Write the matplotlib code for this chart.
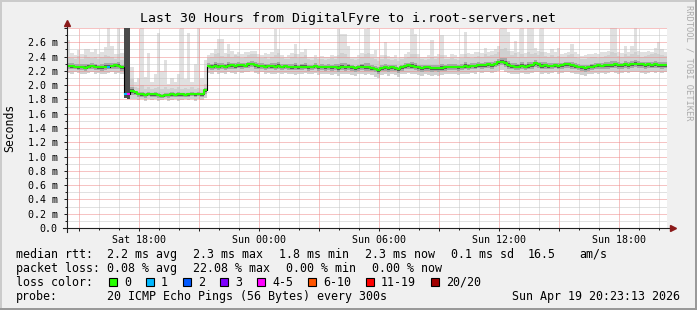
import matplotlib
matplotlib.use("Agg")
import matplotlib.pyplot as plt
import matplotlib.dates as mdates
from matplotlib.patches import Rectangle
from matplotlib.ticker import MultipleLocator, FixedLocator, FuncFormatter
from datetime import datetime, timedelta

W, H = 697, 310
MONO = "DejaVu Sans Mono"

end_time = datetime(2026, 4, 19, 20, 23, 13)
start_time = end_time - timedelta(hours=30)
step_min = 10   # one value per 10 minutes, 180 steps

# median rtt per step (ms)
median_ms = [
    2.27, 2.27, 2.26, 2.25, 2.26, 2.24, 2.26, 2.27, 2.26, 2.25, 2.25, 2.26, 2.26, 2.27, 2.28, 2.27, 2.25,
    1.88, 1.88, 1.92, 1.90, 1.88, 1.87, 1.86, 1.88, 1.87, 1.87, 1.86, 1.85, 1.86, 1.86, 1.87, 1.86,
    1.87, 1.87, 1.86, 1.87, 1.88, 1.87, 1.88, 1.87, 1.93,
    2.27, 2.26, 2.27, 2.26, 2.27, 2.26, 2.27, 2.28, 2.27, 2.28, 2.28, 2.27, 2.29, 2.30, 2.28,
    2.27, 2.27, 2.26, 2.27, 2.27, 2.26, 2.27, 2.26, 2.27,
    2.26, 2.25, 2.26, 2.25, 2.26, 2.26, 2.25, 2.26, 2.27, 2.25, 2.26, 2.25,
    2.26, 2.25, 2.26, 2.24, 2.26, 2.25, 2.26, 2.25, 2.24, 2.25, 2.26, 2.25,
    2.25, 2.24, 2.23, 2.21, 2.24, 2.25, 2.24, 2.25, 2.24, 2.22,
    2.25, 2.27, 2.28, 2.27, 2.26, 2.25, 2.24, 2.25, 2.25, 2.24, 2.24,
    2.24, 2.24, 2.25, 2.26, 2.26, 2.26, 2.25, 2.26, 2.27, 2.26, 2.27, 2.27,
    2.28, 2.28, 2.28, 2.29, 2.28, 2.30, 2.32, 2.33, 2.31,
    2.28, 2.27, 2.26, 2.26, 2.27, 2.26, 2.27, 2.28, 2.31,
    2.29, 2.27, 2.28, 2.27, 2.27, 2.28, 2.27, 2.28, 2.29, 2.29, 2.28, 2.27,
    2.26, 2.25, 2.24, 2.25, 2.26, 2.27, 2.28, 2.27, 2.28,
    2.28, 2.28, 2.29, 2.28, 2.28, 2.29, 2.28, 2.29, 2.30, 2.30, 2.29, 2.28, 2.29, 2.28, 2.29, 2.28, 2.28, 2.28,
]

# lower edge of the smoke (fastest pings)
smoke_lo = [
    2.17, 2.16, 2.18, 2.17, 2.16, 2.15, 2.17, 2.18, 2.16, 2.17, 2.15, 2.16, 2.17, 2.18, 2.16, 2.17, 2.15,
    1.82, 1.80, 1.80, 1.81, 1.79, 1.80, 1.78, 1.80, 1.79, 1.80, 1.78, 1.79, 1.80, 1.78, 1.79, 1.80,
    1.78, 1.79, 1.80, 1.79, 1.80, 1.78, 1.80, 1.79, 1.82,
    2.17, 2.16, 2.18, 2.15, 2.17, 2.16, 2.18, 2.17, 2.16, 2.18, 2.17, 2.19,
    2.18, 2.20, 2.17, 2.16, 2.18, 2.15, 2.17, 2.16, 2.15, 2.17, 2.16, 2.17,
    2.15, 2.16, 2.14, 2.16, 2.15, 2.17, 2.15, 2.16, 2.17, 2.14, 2.16, 2.15,
    2.16, 2.14, 2.15, 2.13, 2.16, 2.15, 2.16, 2.14, 2.13, 2.15, 2.16, 2.14,
    2.15, 2.14, 2.12, 2.10, 2.14, 2.15, 2.13, 2.15, 2.14, 2.12, 2.15, 2.16,
    2.17, 2.16, 2.15, 2.14, 2.13, 2.15, 2.14, 2.13, 2.14, 2.13, 2.14, 2.15,
    2.16, 2.15, 2.16, 2.14, 2.15, 2.16, 2.15, 2.17, 2.16, 2.18, 2.17, 2.18,
    2.18, 2.17, 2.19, 2.20, 2.21, 2.19, 2.17, 2.16, 2.15, 2.16, 2.17, 2.15,
    2.16, 2.17, 2.19, 2.18, 2.16, 2.17, 2.16, 2.17, 2.18, 2.16, 2.17, 2.18,
    2.18, 2.17, 2.16, 2.15, 2.14, 2.13, 2.15, 2.16, 2.17, 2.16, 2.17, 2.16,
    2.17, 2.18, 2.17, 2.16, 2.17, 2.18, 2.17, 2.18, 2.19, 2.18, 2.17, 2.16,
    2.17, 2.18, 2.17, 2.18, 2.17, 2.18,
]

# upper edge of the dense smoke
smoke_up = [
    2.40, 2.38, 2.36, 2.41, 2.37, 2.42, 2.39, 2.38, 2.40, 2.36, 2.39, 2.42, 2.41, 2.40, 2.37, 2.43, 2.35,
    2.80, 2.80, 2.08, 1.98, 1.96, 2.00, 1.95, 1.97, 1.94, 1.96, 1.98, 1.95, 1.97, 1.94, 1.96, 1.95,
    1.97, 1.94, 1.96, 1.95, 1.97, 1.94, 1.96, 1.95, 2.02,
    2.38, 2.40, 2.43, 2.45, 2.41, 2.39, 2.44, 2.40, 2.42, 2.41, 2.38, 2.40,
    2.42, 2.44, 2.43, 2.39, 2.38, 2.40, 2.37, 2.39, 2.42, 2.45, 2.38, 2.36,
    2.37, 2.39, 2.44, 2.38, 2.40, 2.42, 2.36, 2.35, 2.38, 2.36, 2.37, 2.35,
    2.36, 2.38, 2.37, 2.42, 2.45, 2.43, 2.40, 2.36, 2.35, 2.37, 2.40, 2.44,
    2.45, 2.38, 2.36, 2.34, 2.37, 2.42, 2.36, 2.35, 2.37, 2.34, 2.36, 2.38,
    2.40, 2.44, 2.43, 2.38, 2.36, 2.35, 2.37, 2.40, 2.36, 2.38, 2.42, 2.37,
    2.36, 2.38, 2.37, 2.35, 2.38, 2.43, 2.39, 2.38, 2.40, 2.41, 2.40, 2.43,
    2.41, 2.42, 2.44, 2.46, 2.50, 2.52, 2.48, 2.42, 2.45, 2.40, 2.44, 2.39,
    2.46, 2.44, 2.45, 2.42, 2.46, 2.41, 2.40, 2.42, 2.40, 2.41, 2.39, 2.40,
    2.42, 2.43, 2.40, 2.38, 2.36, 2.37, 2.38, 2.39, 2.40, 2.38, 2.40, 2.41,
    2.42, 2.46, 2.45, 2.41, 2.40, 2.43, 2.41, 2.44, 2.47, 2.42, 2.40, 2.41,
    2.42, 2.44, 2.45, 2.43, 2.42, 2.41,
]

# slowest ping per step (the light spikes)
smoke_top = [
    2.63, 2.45, 2.42, 2.49, 2.44, 2.50, 2.50, 2.47, 2.50, 2.43, 2.46, 2.53, 2.80, 2.55, 2.44, 2.80, 2.45,
    2.80, 2.80, 2.25, 2.05, 2.10, 2.80, 2.12, 2.45, 2.05, 2.15, 2.73, 2.20, 2.35, 2.02, 2.10, 2.05,
    2.15, 2.80, 2.08, 2.73, 2.05, 2.30, 2.80, 2.10, 2.35,
    2.42, 2.45, 2.50, 2.64, 2.64, 2.45, 2.57, 2.48, 2.43, 2.46, 2.44, 2.47,
    2.46, 2.48, 2.48, 2.44, 2.42, 2.45, 2.43, 2.46, 2.78, 2.50, 2.42, 2.40,
    2.42, 2.45, 2.57, 2.43, 2.46, 2.50, 2.40, 2.39, 2.42, 2.40, 2.41, 2.39,
    2.40, 2.42, 2.41, 2.78, 2.72, 2.72, 2.55, 2.40, 2.39, 2.42, 2.45, 2.78,
    2.80, 2.43, 2.49, 2.40, 2.42, 2.60, 2.41, 2.39, 2.42, 2.38, 2.40, 2.43,
    2.46, 2.78, 2.72, 2.44, 2.40, 2.39, 2.42, 2.63, 2.41, 2.43, 2.70, 2.42,
    2.40, 2.43, 2.42, 2.40, 2.44, 2.74, 2.45, 2.43, 2.46, 2.47, 2.45, 2.52,
    2.46, 2.48, 2.50, 2.55, 2.80, 2.80, 2.75, 2.48, 2.62, 2.46, 2.80, 2.45,
    2.80, 2.80, 2.52, 2.48, 2.80, 2.47, 2.45, 2.50, 2.46, 2.52, 2.44, 2.45,
    2.47, 2.58, 2.46, 2.43, 2.41, 2.42, 2.43, 2.44, 2.45, 2.43, 2.46, 2.47,
    2.48, 2.80, 2.80, 2.46, 2.45, 2.55, 2.47, 2.55, 2.80, 2.48, 2.46, 2.47,
    2.48, 2.46, 2.52, 2.60, 2.50, 2.47,
]

# steps with lost pings (out of 20) and steps with very dense smoke
loss_steps = [12, 17, 18]
loss_counts = [1, 1, 4]
heavy_steps = [17, 18]

loss_labels = ["0", "1", "2", "3", "4-5", "6-10", "11-19", "20/20"]
loss_colors = ["#26ff00", "#00b8ff", "#0059ff", "#7e00ff", "#ff00ff", "#ff5500", "#ff0000", "#a10000"]

legend_rtt = ["2.2 ms avg", "2.3 ms max", "1.8 ms min", "2.3 ms now", "0.1 ms sd"]
legend_loss = ["0.08 % avg", "22.08 % max", "0.00 % min", "0.00 % now"]


def loss_color(n):
    if n <= 3:
        return loss_colors[n]
    if n <= 5:
        return loss_colors[4]
    if n <= 10:
        return loss_colors[5]
    if n <= 19:
        return loss_colors[6]
    return loss_colors[7]


n = len(median_ms)
step = step_min / 1440.0
t0 = mdates.date2num(start_time)
centers = [t0 + (i + 0.5) * step for i in range(n)]
edges = [t0 + i * step for i in range(n + 1)]
loss = [0] * n
for s, c in zip(loss_steps, loss_counts):
    loss[s] = c

fig = plt.figure(figsize=(W / 100, H / 100), dpi=100, facecolor="#f0f0f0")
ax = fig.add_axes([67 / W, (H - 228) / H, 600 / W, 200 / H])
ax.set_facecolor("white")


# smoke, from light outer band to dark core
def band(lo, hi, color, z):
    ax.bar(centers, [h - l for l, h in zip(lo, hi)], bottom=lo, width=step * 1.01,
           color=color, linewidth=0, antialiased=False, zorder=z)


band(smoke_lo, smoke_top, "#e0e0e0", 1.0)
band(smoke_lo, smoke_up, "#d0d0d0", 1.1)
mid_lo = [m - 0.45 * (m - l) for m, l in zip(median_ms, smoke_lo)]
mid_hi = [m + 0.3 * (u - m) for m, u in zip(median_ms, smoke_up)]
band(mid_lo, mid_hi, "#a8a8a8", 3.0)
core_lo = [m - 0.22 * (m - l) for m, l in zip(median_ms, smoke_lo)]
core_hi = [m + 0.12 * (u - m) for m, u in zip(median_ms, smoke_up)]
band(core_lo, core_hi, "#606060", 3.1)
ax.bar([centers[i] for i in heavy_steps], [smoke_top[i] - smoke_lo[i] for i in heavy_steps],
       bottom=[smoke_lo[i] for i in heavy_steps], width=step * 1.01, color="#4a4a4a",
       linewidth=0, antialiased=False, zorder=3.2)

# median: thin black step line, loss-coloured segments on top
ax.plot(edges, median_ms + [median_ms[-1]], drawstyle="steps-post", color="#000000", lw=0.8, zorder=4)
runs = []
a = 0
for i in range(1, n + 1):
    if i == n or loss_color(loss[i]) != loss_color(loss[a]) or abs(median_ms[i] - median_ms[i - 1]) > 0.15:
        runs.append((a, i - 1))
        a = i
for a, b in runs:
    ax.plot(edges[a:b + 2], median_ms[a:b + 1] + [median_ms[b]], drawstyle="steps-post",
            color=loss_color(loss[a]), lw=1.5, solid_capstyle="butt", zorder=5)

ax.set_xlim(edges[0], mdates.date2num(end_time))
ax.set_ylim(0, 2.8)

ax.xaxis.set_major_locator(mdates.HourLocator(byhour=range(0, 24, 3)))
ax.xaxis.set_minor_locator(mdates.HourLocator())


def xfmt(v, pos):
    d = mdates.num2date(v)
    return d.strftime("%a %H:%M") if d.hour % 6 == 0 else ""


def yfmt(v, pos):
    if abs(v) < 1e-9:
        return "0.0"
    if v > 2.75:
        return ""
    return f"{v:.1f} m"


ax.xaxis.set_major_formatter(FuncFormatter(xfmt))
ax.yaxis.set_major_locator(MultipleLocator(0.2))
ax.yaxis.set_minor_locator(FixedLocator([0.1 + 0.2 * k for k in range(14)]))
ax.yaxis.set_major_formatter(FuncFormatter(yfmt))

# rrdtool style dotted grid
ax.set_axisbelow(False)
ax.grid(which="major", color="#ef8888", linestyle=(0, (1, 1)), lw=0.72, snap=True)
ax.grid(which="minor", color="#c4c4c4", linestyle=(0, (1, 1)), lw=0.72, snap=True)

for sp in ax.spines.values():
    sp.set_visible(False)
ax.tick_params(which="major", direction="out", length=2.2, width=0.72, color="#1f1f1f",
               labelsize=7.2, pad=2.5)
ax.tick_params(which="minor", direction="out", length=1.2, width=0.72, color="#1f1f1f")
ax.tick_params(axis="y", which="major", pad=4.5)
for lab in ax.get_xticklabels() + ax.get_yticklabels():
    lab.set_family(MONO)

# axes with arrow heads, extending past the plot area like rrdtool does
ax.plot([-4 / 600, 1 + 5 / 600], [0, 0], transform=ax.transAxes, clip_on=False, color="#1f1f1f", lw=0.8, zorder=6)
ax.plot([0, 0], [-4 / 200, 1 + 4 / 200], transform=ax.transAxes, clip_on=False, color="#1f1f1f", lw=0.8, zorder=6)
ax.plot([1 + 6 / 600], [0], marker=">", ms=4.5, color="#8b1a1a", mec="#8b1a1a",
        transform=ax.transAxes, clip_on=False, zorder=7)
ax.plot([0], [1 + 5 / 200], marker="^", ms=4.5, color="#8b1a1a", mec="#8b1a1a",
        transform=ax.transAxes, clip_on=False, zorder=7)


def px(x, y):
    return x / W, 1 - y / H


fig.text(*px(347.5, 18.5), "Last 30 Hours from DigitalFyre to i.root-servers.net",
         ha="center", va="center", family=MONO, fontsize=9.55)
fig.text(*px(9.5, 128), "Seconds", rotation=90, ha="center", va="center", family=MONO, fontsize=8.3)
fig.text(*px(689, 5), "RRDTOOL / TOBI OETIKER", rotation=270, ha="center", va="top",
         family=MONO, fontsize=6.3, color="#ababab")

CH = 7.0   # legend character advance in pixels
rows_y = [254.3, 268.3, 282.3, 296.3]


def legend_row(y, head, items, x0=107, gap=16):
    fig.text(*px(16, y), head, ha="left", va="center", family=MONO, fontsize=8.35)
    x = x0
    for s in items:
        fig.text(*px(x, y), s, ha="left", va="center", family=MONO, fontsize=8.35)
        x += len(s) * CH + gap
    return x


legend_row(rows_y[0], "median rtt:", legend_rtt)
fig.text(*px(528, rows_y[0]), "16.5", ha="left", va="center", family=MONO, fontsize=8.35)
fig.text(*px(579, rows_y[0]), "am/s", ha="left", va="center", family=MONO, fontsize=8.35)
legend_row(rows_y[1], "packet loss:", legend_loss)

fig.text(*px(16, rows_y[2]), "loss color:", ha="left", va="center", family=MONO, fontsize=8.35)
cx = 109
for lab, col in zip(loss_labels, loss_colors):
    fig.add_artist(Rectangle(px(cx, rows_y[2] + 4), 8 / W, 8 / H, transform=fig.transFigure,
                             facecolor=col, edgecolor="black", lw=0.8))
    fig.text(*px(cx + 15, rows_y[2]), lab, ha="left", va="center", family=MONO, fontsize=8.35)
    cx += 15 + CH * len(lab) + 15

fig.text(*px(16, rows_y[3]), "probe:", ha="left", va="center", family=MONO, fontsize=8.35)
fig.text(*px(107, rows_y[3]), "20 ICMP Echo Pings (56 Bytes) every 300s", ha="left", va="center",
         family=MONO, fontsize=8.35)
fig.text(*px(680, rows_y[3]), end_time.strftime("%a %b %d %H:%M:%S %Y"), ha="right", va="center",
         family=MONO, fontsize=8.35)

# 3d-ish frame around the image
for (x, y, w, h, c) in [(0, 0, W, 2, "#cbcbcb"), (0, 0, 2, H, "#cbcbcb"),
                        (0, H - 2, W, 2, "#999999"), (W - 2, 0, 2, H, "#999999")]:
    fig.add_artist(Rectangle(px(x, y + h), w / W, h / H, transform=fig.transFigure,
                             facecolor=c, edgecolor="none"))

fig.savefig("out.png", dpi=100, facecolor=fig.get_facecolor())
